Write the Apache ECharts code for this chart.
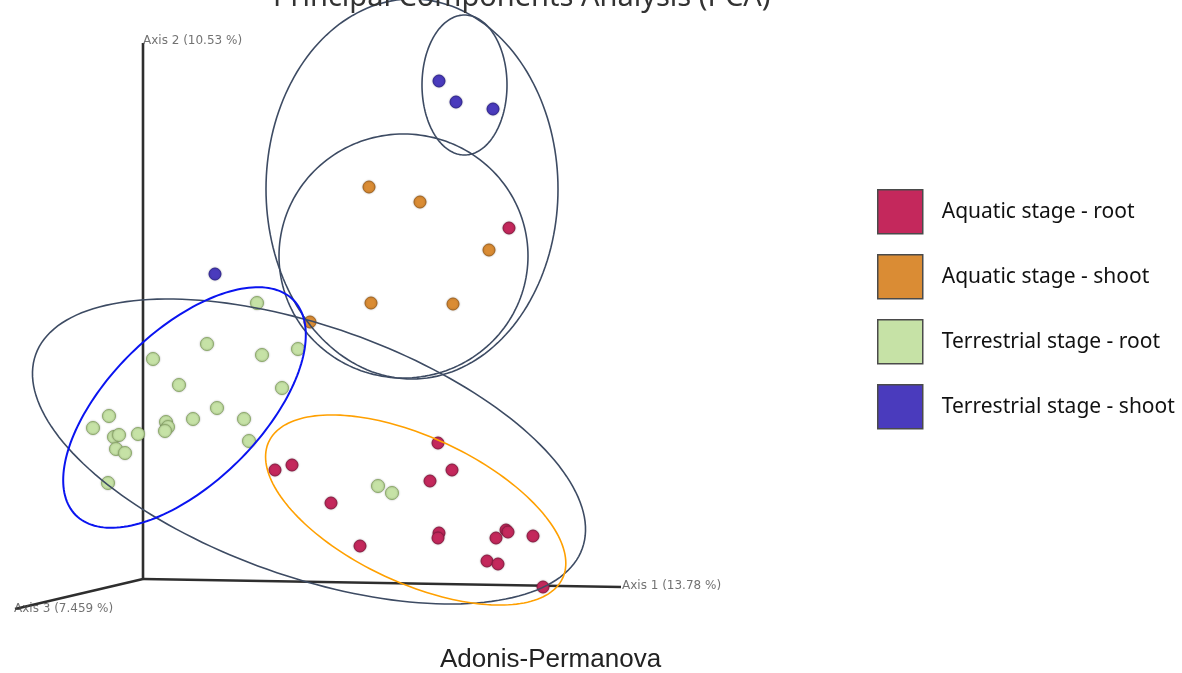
<!DOCTYPE html>
<html>
<head>
<meta charset="utf-8">
<title>PCA</title>
<script src="https://cdn.jsdelivr.net/npm/echarts@6/dist/echarts.min.js"></script>
<style>
  html, body { margin: 0; padding: 0; background: #ffffff; }
  #chart { width: 1182px; height: 673px; }
</style>
</head>
<body>
<div id="chart"></div>
<script>
// Projected PCA scores (plot units, origin at the corner of the 3D axes)
const aquaticRoot = [
  [3.66, 3.51], [1.32, 1.09], [1.49, 1.14], [2.95, 1.36], [3.09, 1.09],
  [2.87, 0.98], [1.88, 0.76], [2.96, 0.46], [2.95, 0.41], [2.17, 0.33],
  [3.63, 0.49], [3.65, 0.47], [3.53, 0.41], [3.90, 0.43], [3.44, 0.18],
  [3.55, 0.15], [4.00, -0.08]
];
const aquaticShoot = [
  [2.26, 3.92], [2.77, 3.77], [3.46, 3.29], [2.28, 2.76], [3.10, 2.75], [1.67, 2.57]
];
const terrestrialRoot = [
  [1.14, 2.76], [0.64, 2.35], [0.10, 2.20], [1.19, 2.24], [1.55, 2.30],
  [0.36, 1.94], [1.39, 1.91], [0.74, 1.71], [0.50, 1.60], [1.01, 1.60],
  [-0.34, 1.63], [-0.50, 1.51], [0.23, 1.57], [0.25, 1.52], [0.22, 1.48],
  [-0.05, 1.45], [-0.29, 1.42], [-0.24, 1.44], [-0.27, 1.30], [-0.18, 1.26],
  [1.06, 1.38], [-0.35, 0.96], [2.35, 0.93], [2.49, 0.86]
];
const terrestrialShoot = [
  [2.96, 4.98], [3.13, 4.77], [3.50, 4.70], [0.72, 3.05]
];

// Group names (legend)
const groupNames = [
  'Aquatic stage - root',
  'Aquatic stage - shoot',
  'Terrestrial stage - root',
  'Terrestrial stage - shoot'
];

// Projected 3D axes: shared origin and the far end of each axis
const axisOrigin = [0, 0];
const axisEnds = [[4.78, -0.08], [0, 5.36], [-1.28, -0.30]];
const axisTitles = ['Axis 1 (13.78 %)', 'Axis 2 (10.53 %)', 'Axis 3 (7.459 %)'];

// Grouping ellipses: [centre x, centre y, semi-axis x, semi-axis y, rotation (deg)]
const ellipses = [
  [2.69, 3.90, 1.46, 1.90, 0],
  [3.215, 4.94, 0.425, 0.70, 0],
  [2.605, 3.23, 1.245, 1.22, 0],
  [1.66, 1.275, 2.90, 1.25, -19.5],
  [0.415, 1.715, 1.53, 0.76, 44.6],
  [2.727, 0.69, 1.62, 0.73, -24.9]
];

const titleText = 'Principal Components Analysis (PCA)';
const subtitleText = 'Adonis-Permanova';

// ---- styling ----
const groupFill = ['#c4285c', '#da8c34', '#c6e2a6', '#4a3bbd'];
const groupBorder = ['#8c1a42', '#a3641f', '#8eab6c', '#2e2490'];
const ellipseStroke = ['#3d4b63', '#3d4b63', '#3d4b63', '#3d4b63', '#0a14f0', '#ffa000'];
const ellipseWidth = [1.6, 1.6, 1.6, 1.6, 2, 1.6];

const chart = echarts.init(document.getElementById('chart'), null, { renderer: 'canvas' });

const groups = [aquaticRoot, aquaticShoot, terrestrialRoot, terrestrialShoot];

const scatterSeries = groups.map((data, i) => ({
  name: groupNames[i],
  type: 'scatter',
  data: data,
  symbol: 'circle',
  symbolSize: i === 2 ? 13 : 12,
  z: 3,
  itemStyle: {
    color: groupFill[i],
    borderColor: groupBorder[i],
    borderWidth: 1,
    opacity: 1,
    shadowBlur: 2,
    shadowColor: 'rgba(0,0,0,0.25)'
  }
}));

const ellipseSeries = {
  type: 'custom',
  name: 'ellipses',
  silent: true,
  z: 4,
  clip: false,
  encode: { x: 0, y: 1 },
  data: ellipses,
  renderItem: function (params, api) {
    const cx = api.value(0), cy = api.value(1);
    const rx = api.value(2), ry = api.value(3);
    const a = api.value(4) * Math.PI / 180;
    const pts = [];
    const n = 180;
    for (let k = 0; k < n; k++) {
      const t = k / n * Math.PI * 2;
      const ex = rx * Math.cos(t), ey = ry * Math.sin(t);
      pts.push(api.coord([
        cx + ex * Math.cos(a) - ey * Math.sin(a),
        cy + ex * Math.sin(a) + ey * Math.cos(a)
      ]));
    }
    return {
      type: 'polygon',
      shape: { points: pts },
      style: {
        fill: 'none',
        stroke: ellipseStroke[params.dataIndex],
        lineWidth: ellipseWidth[params.dataIndex]
      }
    };
  }
};

const axisLineStyle = { color: '#2e2e2e', width: 2.6 };
const axisSeries = axisEnds.map(end => ({
  type: 'line',
  silent: true,
  z: 2,
  data: [axisOrigin, end],
  showSymbol: false,
  symbol: 'none',
  lineStyle: axisLineStyle
}));

const axisLabelOffsets = [[0, -1], [-1, -2], [-2, 0]];
const axisTitleSeries = {
  type: 'scatter',
  silent: true,
  z: 5,
  symbolSize: 0,
  data: axisEnds.map((end, i) => ({
    value: end,
    name: axisTitles[i],
    label: { offset: axisLabelOffsets[i] }
  })),
  label: {
    show: true,
    position: 'right',
    distance: 1,
    formatter: '{b}',
    fontFamily: 'DejaVu Sans',
    fontSize: 12,
    color: '#4f4f4f'
  }
};

chart.setOption({
  backgroundColor: '#ffffff',
  animation: false,
  grid: { left: 0, right: 0, top: 0, bottom: 0, containLabel: false },
  xAxis: { type: 'value', min: -1.43, max: 10.39, show: false, splitLine: { show: false } },
  yAxis: { type: 'value', min: -0.94, max: 5.79, show: false, splitLine: { show: false } },
  legend: {
    data: groupNames,
    orient: 'vertical',
    left: 872,
    top: 184,
    itemWidth: 45,
    itemHeight: 44,
    itemGap: 19.5,
    icon: 'rect',
    selectedMode: false,
    itemStyle: { borderColor: '#4a4a4a', borderWidth: 1.5 },
    textStyle: {
      fontFamily: 'Noto Sans',
      fontSize: 21,
      color: '#111111',
      padding: [0, 0, 0, 14]
    }
  },
  graphic: [
    {
      type: 'text',
      left: 273,
      top: -17,
      style: {
        text: titleText,
        font: '29px "Noto Sans"',
        fill: '#333333'
      },
      z: 10
    },
    {
      type: 'text',
      left: 440,
      top: 647,
      style: {
        text: subtitleText,
        font: '26px "Liberation Sans"',
        fill: '#222222'
      }
    }
  ],
  series: [...axisSeries, ...scatterSeries, ellipseSeries, axisTitleSeries]
});
</script>
</body>
</html>
